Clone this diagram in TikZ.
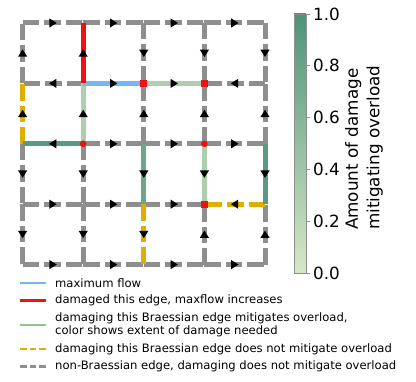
\documentclass[tikz,border=0pt]{standalone}
\usepackage{fontspec}
\setmainfont{DejaVu Sans}
\usetikzlibrary{arrows.meta, decorations.markings, positioning, calc}
\definecolor{edgegray}{HTML}{8E8E8E}
\definecolor{flowblue}{HTML}{78B6F2}
\definecolor{dmgred}{HTML}{EE1111}
\definecolor{braessyellow}{HTML}{DDAF00}
\definecolor{greenlow}{HTML}{D6E8C6}
\definecolor{greenhigh}{HTML}{4E937A}
\definecolor{legendgreen}{HTML}{8CC78E}

\begin{document}
\begin{tikzpicture}[
  x=1pt, y=-1pt,
  flowmark/.style={postaction={decorate, decoration={markings,
    mark=at position 0.5 with {\fill[black] (3.8pt,0pt) -- (-3.5pt,4.6pt) -- (-3.5pt,-4.6pt) -- cycle;}}}},
  graylink/.style={draw=edgegray, line width=5pt, dash pattern=on 16.5pt off 5pt, flowmark},
  yellowlink/.style={draw=braessyellow, line width=5pt, dash pattern=on 16.5pt off 5pt, flowmark},
  solidlink/.style={draw=#1, line width=5pt, flowmark},
  legtext/.style={anchor=west, inner sep=0pt, font=\fontsize{11.6}{13.3}\selectfont, align=left},
  legline/.style={line width=2.3pt},
  ticklabel/.style={anchor=west, inner sep=0pt, font=\fontsize{16.8}{20}\selectfont}
]
  \useasboundingbox (0,0) rectangle (416,382);

  % grid of junctions
  \foreach \i in {0,...,4}
    \foreach \j in {0,...,4}
      \coordinate (g\i\j) at ({22.6+60.6*\i},{23+60.4*\j});

  % non-Braessian edges
  \foreach \a/\b in {00/10, 10/20, 20/30, 30/40,
                     01/00, 20/21, 30/31, 40/41,
                     11/01, 41/31,
                     22/21, 32/31, 42/41,
                     12/22, 22/32, 32/42,
                     02/03, 12/13,
                     03/13, 13/23, 23/33,
                     03/04, 13/14, 34/33, 44/43,
                     04/14, 14/24, 24/34, 34/44}
    \draw[graylink] (g\a) -- (g\b);

  % Braessian edges, no mitigation
  \foreach \a/\b in {02/01, 43/33, 23/24}
    \draw[yellowlink] (g\a) -- (g\b);

  % Braessian edges that mitigate overload
  \draw[solidlink=greenhigh!30!greenlow] (g21) -- (g31);
  \draw[solidlink=greenhigh!30!greenlow] (g12) -- (g11);
  \draw[solidlink=greenhigh!30!greenlow] (g32) -- (g33);
  \draw[solidlink=greenhigh!78!greenlow] (g22) -- (g23);
  \draw[solidlink=greenhigh!92!greenlow] (g12) -- (g02);
  \draw[solidlink=greenhigh!92!greenlow] (g42) -- (g43);

  % maximum flow and damaged edge
  \draw[solidlink=flowblue] (g11) -- (g21);
  \draw[solidlink=dmgred] (g11) -- (g10);

  % red junction markers
  \foreach \n in {21, 31, 33}
    \fill[dmgred] ($(g\n)+(-3.5,-3.5)$) rectangle ($(g\n)+(3.5,3.5)$);
  \foreach \n in {12, 32}
    \fill[dmgred] (g\n) circle (3.3pt);

  % colour bar
  \shade[bottom color=greenlow, top color=greenhigh] (294,14) rectangle (306,273);
  \draw[edgegray, line width=0.8pt] (294,14) rectangle (306,273);
  \foreach \v/\t in {0/0.0, 1/0.2, 2/0.4, 3/0.6, 4/0.8, 5/1.0} {
    \draw[edgegray, line width=0.8pt] (306,{273-51.8*\v}) -- (310,{273-51.8*\v});
    \node[ticklabel] (tick\v) at (313,{273-51.8*\v}) {\t};
  }
  \node[rotate=90, align=left, inner sep=0pt, font=\fontsize{16.8}{21.5}\selectfont] (cblabel) at (364,147.7) {Amount of damage\\mitigating overload};

  % legend
  \draw[legline, flowblue] (20,283) -- (46,283);
  \draw[legline, dmgred] (20,300.5) -- (46,300.5);
  \draw[legline, legendgreen] (20,325) -- (46,325);
  \draw[legline, braessyellow, dash pattern=on 6.5pt off 3pt] (20,349) -- (46,349);
  \draw[legline, edgegray, dash pattern=on 6.5pt off 3pt] (20,366.5) -- (46,366.5);
  \node[legtext] (leg1) at (55,283) {maximum flow};
  \node[legtext] (leg2) at (55,300.5) {damaged this edge, maxflow increases};
  \node[legtext] (leg3) at (55,325) {damaging this Braessian edge mitigates overload,\\color shows extent of damage needed};
  \node[legtext] (leg4) at (55,349) {damaging this Braessian edge does not mitigate overload};
  \node[legtext] (leg5) at (55,366.5) {non-Braessian edge, damaging does not mitigate overload};
\end{tikzpicture}
\end{document}
